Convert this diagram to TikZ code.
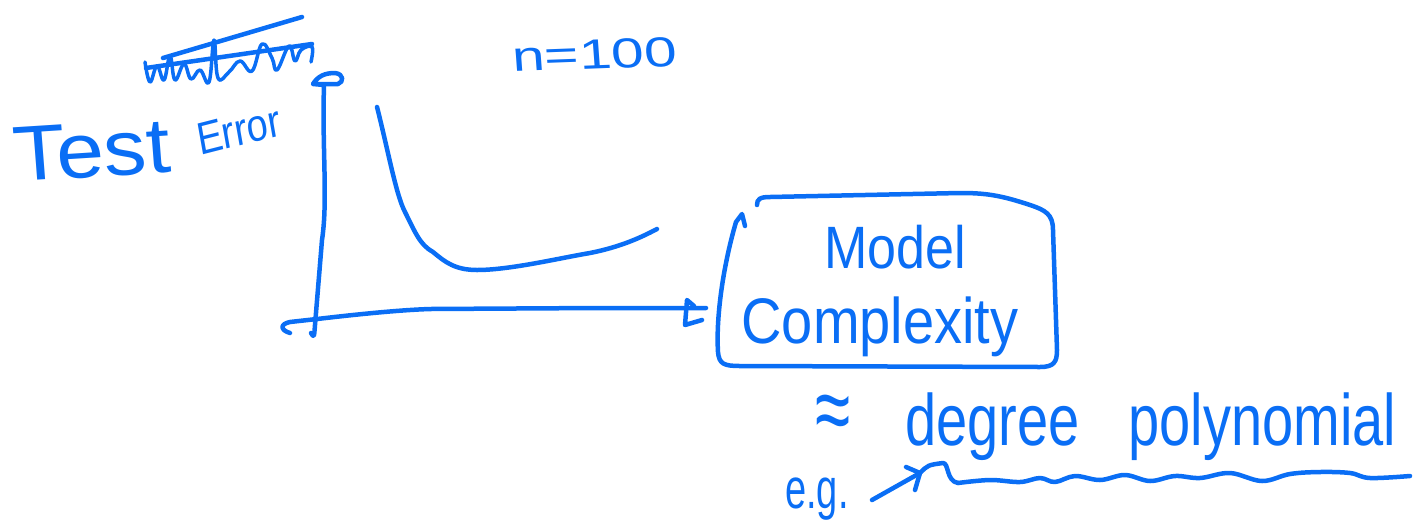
\documentclass[tikz,border=0pt]{standalone}
\usepackage{fontspec}
\setmainfont{Liberation Sans}
\definecolor{ink}{RGB}{10,110,245}
\begin{document}
\begin{tikzpicture}[x=1pt,y=-1pt,
  pen/.style={draw=ink, line width=4.5pt, line cap=round, line join=round},
  fine/.style={draw=ink, line width=3.5pt, line cap=round, line join=round},
  hand/.style={text=ink, inner sep=0pt},
]
\useasboundingbox (0,0) rectangle (1427,531);

% crossed-out scribble above the axis label
\draw[fine] plot[smooth, tension=0.7] coordinates {(145,62) (150,82) (157,66) (164,80) (170,56) (175,80) (184,64) (191,79) (200,70) (209,82) (214,40) (218,78) (229,72) (240,61) (252,71) (262,44) (272,58) (277,70) (289,46) (295,61) (301,50) (312,47) (311,62)};
\draw[pen] (146,68) -- (312,44);
\draw[pen] (163,58) -- (302,17);

% axis label
\node[hand, anchor=base west, font=\fontsize{78}{78}\selectfont, xscale=1.1, rotate=4] (test) at (15,182) {Test};
\node[hand, anchor=base west, font=\fontsize{38}{38}\selectfont, yscale=1.2, rotate=12] (err) at (200,156) {Error};

% sample size
\node[hand, anchor=base west, font=\fontsize{42}{42}\selectfont, xscale=1.4, rotate=3] (n) at (513,72) {n=100};

% vertical axis with hand-drawn head
\draw[pen] (311,333) .. controls (314,338) .. (315,325) -- (322,240) .. controls (328,200) and (322,150) .. (324,85);
\draw[pen] (324,85) -- (313,84) .. controls (318,76) and (325,73) .. (335,73) .. controls (344,74) and (344,82) .. (338,84) -- (314,84);

% horizontal axis with hand-drawn head
\draw[pen] (290,333) .. controls (280,330) and (280,324) .. (290,322) -- (317,319) .. controls (360,314) and (400,310) .. (430,309) -- (600,308) -- (706,308);
\draw[pen] (694,306) -- (687,300) -- (685,325) -- (702,320);

% error curve
\draw[pen] (377,107) .. controls (388,150) and (396,195) .. (405,212) .. controls (415,232) and (420,245) .. (433,252) .. controls (445,262) and (455,270) .. (477,270) .. controls (510,270) and (560,258) .. (590,253) .. controls (620,247) and (640,238) .. (657,229);

% model complexity box
\node[hand, anchor=base, font=\fontsize{52}{52}\selectfont, yscale=1.15] (model) at (895,268) {Model};
\node[hand, anchor=base, font=\fontsize{56}{56}\selectfont, yscale=1.15] (cplx) at (880,343) {Complexity};
\draw[pen] (745,226) -- (742,214) -- (736,222) .. controls (722,270) and (716,320) .. (718,352) .. controls (719,364) and (724,366) .. (740,366) -- (1040,367) .. controls (1054,367) and (1057,362) .. (1057,350) -- (1053,230) .. controls (1053,214) and (1045,210) .. (1030,205) .. controls (1000,195) and (985,193) .. (960,193) -- (770,197) .. controls (760,197) and (757,199) .. (757,205);

% note below the box
\node[hand, anchor=base, font=\fontsize{64}{64}\selectfont, yscale=1.5] (approx) at (833,442) {≈};
\node[hand, anchor=base west, font=\fontsize{56}{56}\selectfont, yscale=1.3] (deg) at (905,445) {degree\hspace{49pt}polynomial};
\node[hand, anchor=base west, font=\fontsize{38}{38}\selectfont, yscale=1.5] (eg) at (785,508) {e.g.};

% pointer and wavy underline
\coordinate (tail) at (872,500);
\coordinate (tip) at (920,473);
\draw[pen] (tail) -- (tip);
\draw[pen] (906,467) -- (tip) -- (915,490);
\draw[pen] (tip) .. controls (928,465) .. (943,463) .. controls (949,463) and (946,481) .. (958,483);
\draw[pen] plot[smooth, tension=0.6] coordinates {(958,483) (990,480) (1020,482) (1040,478) (1055,482) (1075,476) (1100,480) (1125,475) (1150,481) (1175,476) (1200,478) (1230,473) (1262,481) (1290,474) (1320,472) (1350,473) (1370,478) (1410,476)};
\end{tikzpicture}
\end{document}
